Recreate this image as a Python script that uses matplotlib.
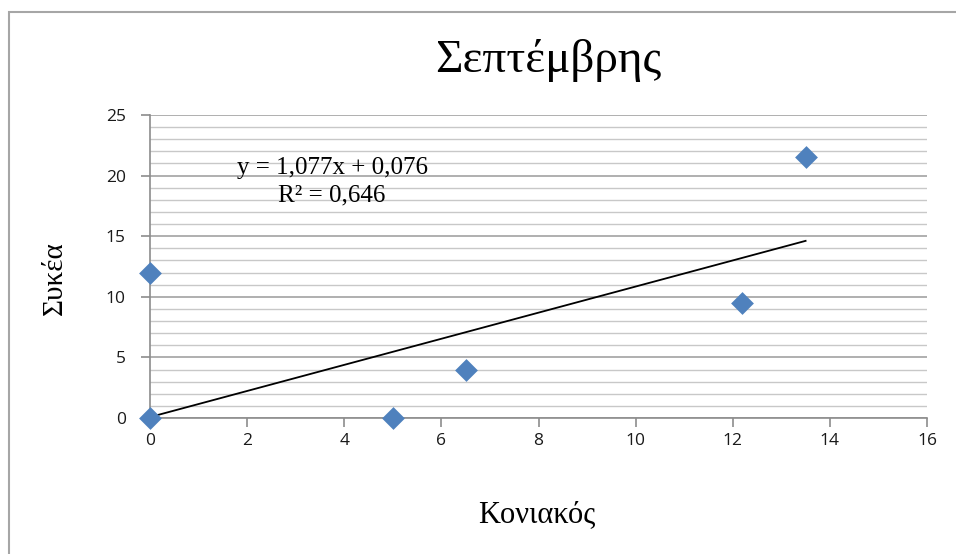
import numpy as np
import matplotlib.pyplot as plt
from matplotlib.patches import Rectangle
from matplotlib.ticker import MultipleLocator

# Σεπτέμβρης: Κονιακός vs Συκέα
koniakos = [0, 0, 5, 6.5, 12.2, 13.5]
sykea = [0, 12, 0, 4, 9.5, 21.5]

# linear trendline as reported
slope = 1.077
intercept = 0.076
r2 = 0.646

serif = 'Liberation Serif'
sans = 'Open Sans'

fig = plt.figure(figsize=(9.56, 5.54), dpi=100)
ax = fig.add_axes([150 / 956, 1 - 418 / 554, 777 / 956, 303 / 554])

# outer chart frame
fig.patches.append(Rectangle((9 / 956, -0.1), 1.2, 1 - 12 / 554 + 0.1,
                             transform=fig.transFigure, fill=False,
                             edgecolor='#a6a6a6', linewidth=1.5))

ax.set_xlim(0, 16)
ax.set_ylim(0, 25)
ax.yaxis.set_minor_locator(MultipleLocator(1))

ax.grid(axis='y', which='major', color='#9a9a9a', linewidth=1.1)
ax.grid(axis='y', which='minor', color='#c8c8c8', linewidth=1.0)
ax.set_axisbelow(True)

for side in ('top', 'right'):
    ax.spines[side].set_visible(False)
for side in ('left', 'bottom'):
    ax.spines[side].set_color('#8c8c8c')
    ax.spines[side].set_linewidth(1.2)

ax.set_xticks(range(0, 17, 2))
ax.set_xticklabels([str(v) for v in range(0, 17, 2)], fontfamily=sans)
ax.set_yticks(range(0, 26, 5))
ax.set_yticklabels([str(v) for v in range(0, 26, 5)], fontfamily=sans)
ax.tick_params(axis='both', which='major', direction='out', length=6.5,
               color='#8c8c8c', width=1.2, labelsize=12.5, labelcolor='#1a1a1a')
ax.tick_params(axis='x', pad=4)
ax.tick_params(axis='y', pad=11)
ax.tick_params(axis='y', which='minor', length=0)

xs = np.array([0, max(koniakos)])
ax.plot(xs, slope * xs + intercept, color='black', linewidth=1.3, zorder=2)

ax.scatter(koniakos, sykea, marker='D', s=135, color='#4f81bd',
           linewidth=0, zorder=3, clip_on=False)

ax.text(3.75, 19.5, 'y = 1,077x + 0,076\nR² = 0,646', fontfamily=serif,
        fontsize=18, ha='center', va='center', linespacing=1.3)

fig.text(548 / 956, 1 - 60 / 554, 'Σεπτέμβρης', fontfamily=serif,
         fontsize=34, ha='center', va='center')
fig.text(537 / 956, 1 - 515 / 554, 'Κονιακός', fontfamily=serif,
         fontsize=22, ha='center', va='center')
fig.text(55 / 956, 1 - 278 / 554, 'Συκέα', fontfamily=serif,
         fontsize=21, ha='center', va='center', rotation=90)

fig.savefig('out.png', dpi=100)
